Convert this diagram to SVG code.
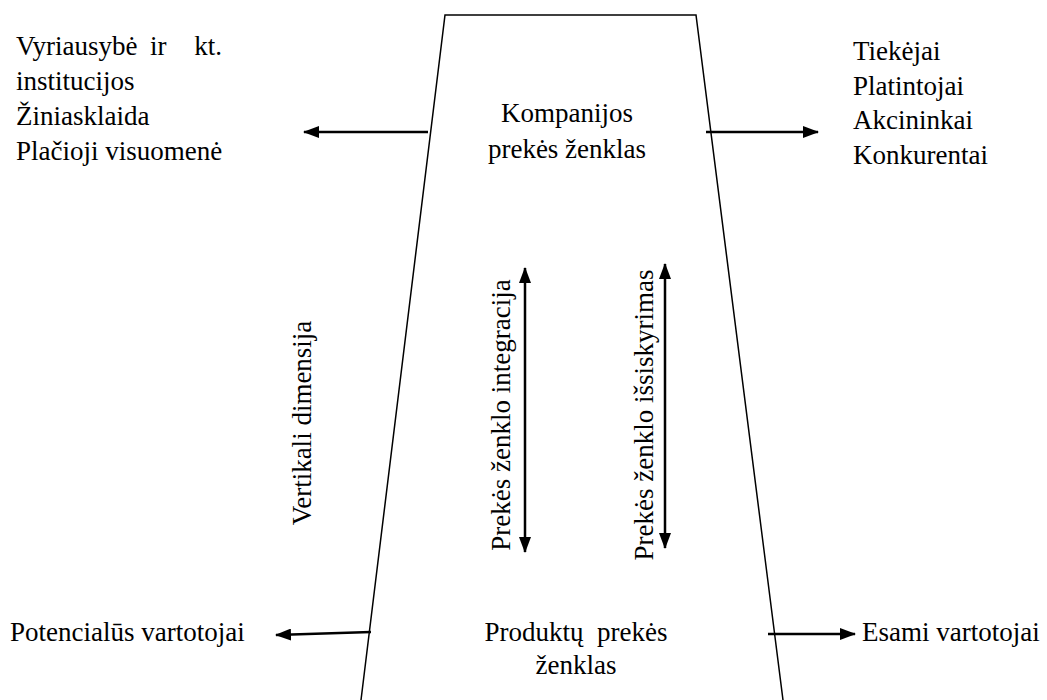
<svg xmlns="http://www.w3.org/2000/svg" width="1047" height="700" viewBox="0 0 1047 700">
  <style>
    .edge { fill: none; stroke: #000; stroke-width: 1.5; }
    .arr { fill: none; stroke: #000; stroke-width: 2.5; }
  </style>
  <defs>
    <marker id="head" viewBox="0 0 16 12" refX="15" refY="6" markerWidth="16" markerHeight="12" markerUnits="userSpaceOnUse" orient="auto-start-reverse">
      <path d="M0,0 L16,6 L0,12 Z" fill="#000"/>
    </marker>
  </defs>
  <rect width="1047" height="700" fill="#fff"/>

  <!-- brand hierarchy trapezoid -->
  <g id="brand-trapezoid">
    <polyline class="edge" points="361,700 445,15 696,15 783,700"/>
  </g>

  <g id="company-brand">
    <text x="567" y="122" font-family="Liberation Serif" font-size="27" text-anchor="middle">Kompanijos</text>
    <text x="567" y="158" font-family="Liberation Serif" font-size="27" text-anchor="middle">prekės ženklas</text>
  </g>

  <g id="product-brand">
    <text x="576" y="641" font-family="Liberation Serif" font-size="27" text-anchor="middle" xml:space="preserve">Produktų  prekės</text>
    <text x="576" y="674" font-family="Liberation Serif" font-size="27" text-anchor="middle">ženklas</text>
  </g>

  <g id="public-stakeholders">
    <text x="16" y="55" font-family="Liberation Serif" font-size="27">Vyriausybė</text>
    <text x="150" y="55" font-family="Liberation Serif" font-size="27">ir</text>
    <text x="222" y="55" font-family="Liberation Serif" font-size="27" text-anchor="end">kt.</text>
    <text x="16" y="90" font-family="Liberation Serif" font-size="27">institucijos</text>
    <text x="16" y="125" font-family="Liberation Serif" font-size="27">Žiniasklaida</text>
    <text x="16" y="160" font-family="Liberation Serif" font-size="27">Plačioji visuomenė</text>
  </g>

  <g id="business-stakeholders">
    <text x="853" y="60" font-family="Liberation Serif" font-size="27">Tiekėjai</text>
    <text x="853" y="95" font-family="Liberation Serif" font-size="27">Platintojai</text>
    <text x="853" y="129" font-family="Liberation Serif" font-size="27">Akcininkai</text>
    <text x="853" y="164" font-family="Liberation Serif" font-size="27">Konkurentai</text>
  </g>

  <g id="potential-consumers">
    <text x="10" y="641" font-family="Liberation Serif" font-size="27">Potencialūs vartotojai</text>
  </g>

  <g id="current-consumers">
    <text x="862" y="641" font-family="Liberation Serif" font-size="27">Esami vartotojai</text>
  </g>

  <g id="vertical-dimension">
    <text transform="translate(311,423) rotate(-90)" font-family="Liberation Serif" font-size="27" text-anchor="middle">Vertikali dimensija</text>
  </g>

  <g id="brand-integration">
    <text transform="translate(510,415) rotate(-90)" font-family="Liberation Serif" font-size="27" text-anchor="middle">Prekės ženklo integracija</text>
  </g>

  <g id="brand-differentiation">
    <text transform="translate(653,415) rotate(-90)" font-family="Liberation Serif" font-size="27" text-anchor="middle">Prekės ženklo išsiskyrimas</text>
  </g>

  <!-- connectors -->
  <g id="connectors">
    <line class="arr" x1="428" y1="132" x2="304" y2="132" marker-end="url(#head)"/>
    <line class="arr" x1="706" y1="132" x2="818" y2="132" marker-end="url(#head)"/>
    <line class="arr" x1="371" y1="632" x2="276" y2="635" marker-end="url(#head)"/>
    <line class="arr" x1="768" y1="634" x2="855" y2="634" marker-end="url(#head)"/>
    <line class="arr" x1="525" y1="552" x2="525" y2="268" marker-start="url(#head)" marker-end="url(#head)"/>
    <line class="arr" x1="665" y1="548" x2="665" y2="264" marker-start="url(#head)" marker-end="url(#head)"/>
  </g>
</svg>
